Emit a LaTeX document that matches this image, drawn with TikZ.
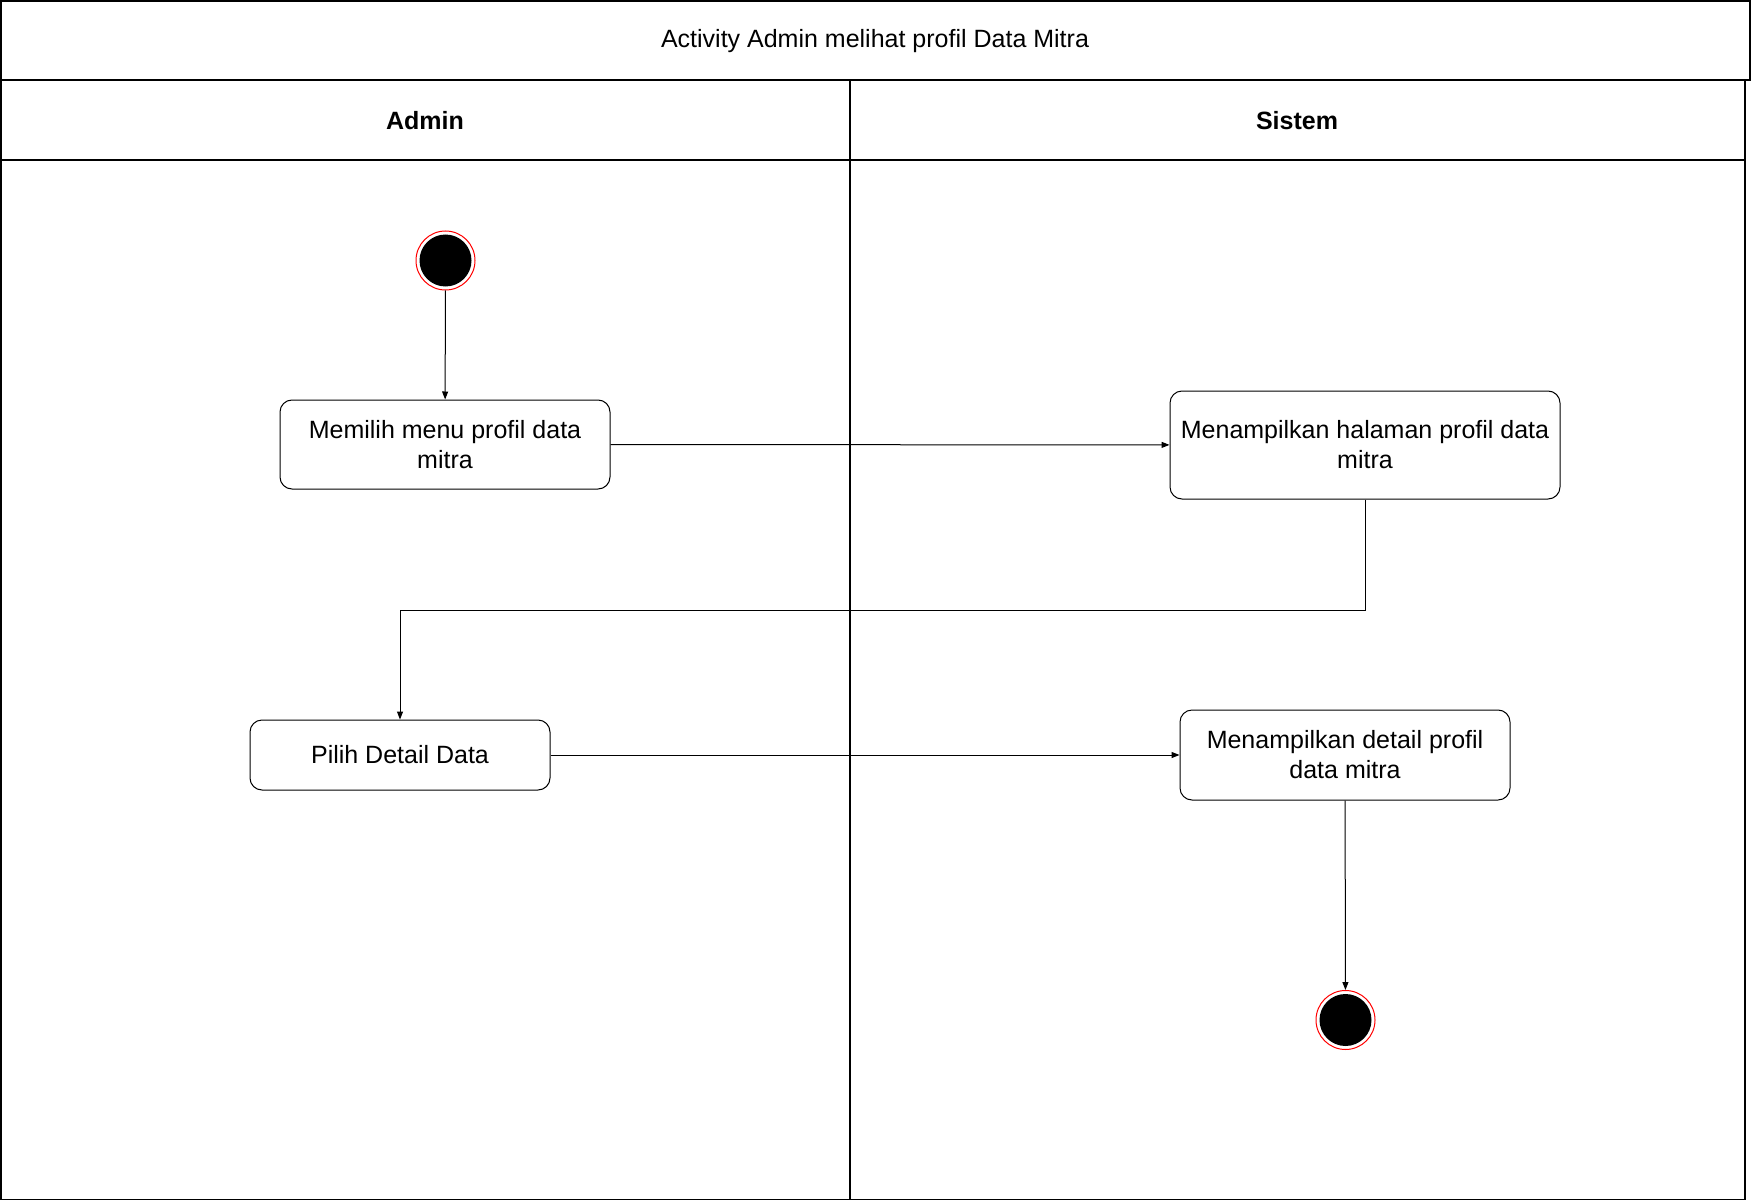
\documentclass[tikz,border=0pt]{standalone}
\usepackage{fontspec}
\setmainfont{Liberation Sans}
\usetikzlibrary{arrows.meta}
\begin{document}
\begin{tikzpicture}[x=1pt,y=-1pt,
  lane/.style={draw=black,line width=1.3pt},
  act/.style={draw=black,line width=1pt,rounded corners=12pt,align=center,inner sep=0pt,
    font=\fontsize{25}{30}\selectfont},
  flow/.style={draw=black,line width=1pt,-{Triangle[length=8pt,width=6pt]}},
  txt/.style={font=\fontsize{25}{30}\selectfont}
]
\useasboundingbox (0,0) rectangle (1751,1201);
\fill[white] (0,0) rectangle (1751,1201);
% title and lanes
\draw[lane] (1,1) rectangle (1750,80);
\node[txt] (title) at (875,41) {Activity Admin melihat profil Data Mitra};
\draw[lane] (1,80) rectangle (1745,1199.5);
\draw[lane] (1,160) -- (1745,160);
\draw[lane] (850,80) -- (850,1199.5);
\node[txt,font=\fontsize{25}{30}\selectfont\bfseries] (admin) at (425,121) {Admin};
\node[txt,font=\fontsize{25}{30}\selectfont\bfseries] (sistem) at (1297,121) {Sistem};
% start
\node[circle,draw=red,line width=1pt,minimum size=59pt,inner sep=0pt] (start) at (445.5,260.5) {};
\fill[black] (start.center) circle[radius=26];
% activities
\node[act,minimum width=330pt,minimum height=89pt] (a1) at (445,444.5) {Memilih menu profil data\\mitra};
\node[act,minimum width=390pt,minimum height=108pt] (a2) at (1365,445) {Menampilkan halaman profil data\\mitra};
\node[act,minimum width=300pt,minimum height=70pt] (a3) at (400,755) {Pilih Detail Data};
\node[act,minimum width=330pt,minimum height=90pt] (a4) at (1345,755) {Menampilkan detail profil\\data mitra};
% end
\node[circle,draw=red,line width=1pt,minimum size=59pt,inner sep=0pt] (end) at (1345.5,1020) {};
\fill[black] (end.center) circle[radius=26];
% connectors
\draw[flow] (start) -- (a1);
\draw[flow] (a1) -- (a2);
\draw[flow] (a2.south) -- (a2.south |- 0,610) -| (a3.north);
\draw[flow] (a3) -- (a4);
\draw[flow] (a4) -- (end);
\end{tikzpicture}
\end{document}
